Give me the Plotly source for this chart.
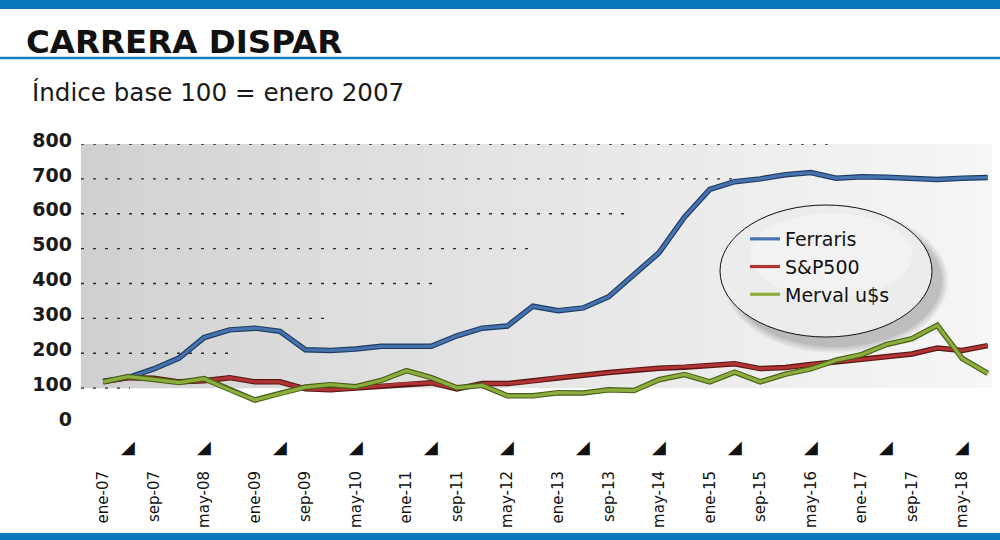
import plotly.graph_objects as go

# ---------------- data ----------------
dates = [
    "2007-01-01", "2007-05-01", "2007-09-01", "2008-01-01", "2008-05-01", "2008-09-01",
    "2009-01-01", "2009-05-01", "2009-09-01", "2010-01-01", "2010-05-01", "2010-09-01",
    "2011-01-01", "2011-05-01", "2011-09-01", "2012-01-01", "2012-05-01", "2012-09-01",
    "2013-01-01", "2013-05-01", "2013-09-01", "2014-01-01", "2014-05-01", "2014-09-01",
    "2015-01-01", "2015-05-01", "2015-09-01", "2016-01-01", "2016-05-01", "2016-09-01",
    "2017-01-01", "2017-05-01", "2017-09-01", "2018-01-01", "2018-05-01", "2018-09-01",
]
ferraris = [120, 130, 155, 186, 245, 267, 272, 263, 210, 208, 212, 220,
            220, 220, 250, 272, 278, 335, 322, 330, 362, 425, 488, 590,
            670, 692, 700, 712, 718, 702, 706, 705, 701, 698, 702, 704]
sp500 = [118, 130, 128, 118, 121, 130, 118, 118, 98, 95, 100, 106,
         113, 115, 98, 113, 113, 120, 130, 137, 145, 152, 157, 160,
         165, 170, 156, 159, 168, 176, 182, 190, 198, 215, 208, 222]
merval = [118, 133, 125, 116, 127, 95, 66, 85, 103, 110, 104, 122,
          150, 130, 101, 108, 78, 78, 87, 86, 95, 93, 124, 139,
          118, 146, 118, 140, 155, 180, 196, 225, 242, 280, 185, 142]

series_names = ["Ferraris", "S&P500", "Merval u$s"]

tick_dates = [
    "2007-01-01", "2007-09-01", "2008-05-01", "2009-01-01", "2009-09-01", "2010-05-01",
    "2011-01-01", "2011-09-01", "2012-05-01", "2013-01-01", "2013-09-01", "2014-05-01",
    "2015-01-01", "2015-09-01", "2016-05-01", "2017-01-01", "2017-09-01", "2018-05-01",
]
tick_labels = ["ene-07", "sep-07", "may-08", "ene-09", "sep-09", "may-10",
               "ene-11", "sep-11", "may-12", "ene-13", "sep-13", "may-14",
               "ene-15", "sep-15", "may-16", "ene-17", "sep-17", "may-18"]
marker_dates = ["%d-05-01" % y for y in range(2007, 2019)]
y_ticks = [0, 100, 200, 300, 400, 500, 600, 700, 800]

# ---------------- styles ----------------
W, H = 1000, 540
ML, MR, MT, MB = 81, 10, 144, 117
PW = W - ML - MR
PH = H - MT - MB

main_colors = ["#4673ad", "#b03434", "#8cae3e"]
edge_colors = ["#1c3a63", "#5a1515", "#4a5f17"]
grid_end_px = [130, 233, 333, 433, 533, 633, 733, 835]  # ends of dotted lines 100..800


def px_x(px):
    return (px - ML) / PW


def px_y(py):
    return (H - MB - py) / PH


fig = go.Figure()

for name, vals, mc, ec in zip(series_names, [ferraris, sp500, merval], main_colors, edge_colors):
    fig.add_trace(go.Scatter(x=dates, y=vals, mode="lines", line=dict(color=ec, width=5.5),
                             showlegend=False, hoverinfo="skip"))
    fig.add_trace(go.Scatter(x=dates, y=vals, mode="lines", name=name,
                             line=dict(color=mc, width=3.2)))

shapes = []
# top / bottom bars and title rule
shapes.append(dict(type="rect", xref="paper", yref="paper", x0=px_x(0), x1=px_x(W),
                   y0=px_y(0), y1=px_y(9), fillcolor="#0a79bb", line=dict(width=0), layer="below"))
shapes.append(dict(type="line", xref="paper", yref="paper", x0=px_x(0), x1=px_x(W),
                   y0=px_y(58), y1=px_y(58), line=dict(color="#1b7fc0", width=2.5)))
shapes.append(dict(type="rect", xref="paper", yref="paper", x0=px_x(0), x1=px_x(W),
                   y0=px_y(533), y1=px_y(541), fillcolor="#0a79bb", line=dict(width=0), layer="below"))

# gradient background (100..800)
n = 45
for i in range(n):
    t = i / (n - 1)
    c = int(208 + (246 - 208) * (t ** 0.8))
    shapes.append(dict(type="rect", xref="paper", yref="y",
                       x0=i / n, x1=(i + 1) / n + 0.002, y0=100, y1=800,
                       fillcolor="rgb(%d,%d,%d)" % (c, c, c), line=dict(width=0), layer="below"))

# dotted grid lines
for v, endpx in zip(y_ticks[1:], grid_end_px):
    shapes.append(dict(type="line", xref="paper", yref="y", x0=0, x1=px_x(endpx), y0=v, y1=v,
                       line=dict(color="#2a2a2a", width=1.3, dash="3px,9px"), layer="below"))

# legend ellipse with soft shadow
ex0, ex1, ey0, ey1 = 720, 932, 205, 337
for k, a in enumerate([0.05, 0.05, 0.06, 0.07]):
    g = 10 - 2 * k
    shapes.append(dict(type="circle", xref="paper", yref="paper",
                       x0=px_x(ex0 + 4 + (10 - g)), x1=px_x(ex1 + 6 + g),
                       y0=px_y(ey1 + 6 + g), y1=px_y(ey0 + 4 + (10 - g)),
                       fillcolor="rgba(0,0,0,%.2f)" % a, line=dict(width=0), layer="below"))
shapes.append(dict(type="circle", xref="paper", yref="paper",
                   x0=px_x(ex0), x1=px_x(ex1), y0=px_y(ey1), y1=px_y(ey0),
                   fillcolor="#ececec", line=dict(color="#111111", width=1), layer="below"))
shapes.append(dict(type="circle", xref="paper", yref="paper",
                   x0=px_x(ex0 + 30), x1=px_x(ex1 - 20), y0=px_y(ey1 - 40), y1=px_y(ey0 + 8),
                   fillcolor="rgba(255,255,255,0.35)", line=dict(width=0), layer="below"))

annotations = [
    dict(text="<b>CARRERA DISPAR</b>", xref="paper", yref="paper", x=px_x(24), y=px_y(42),
         xanchor="left", yanchor="middle", showarrow=False,
         font=dict(family="DejaVu Sans", size=32.5, color="#111111")),
    dict(text="Índice base 100 = enero 2007", xref="paper", yref="paper", x=px_x(30), y=px_y(93),
         xanchor="left", yanchor="middle", showarrow=False,
         font=dict(family="DejaVu Sans", size=24.6, color="#1a1a1a")),
]
# little triangles marking each year
for d in marker_dates:
    annotations.append(dict(text="◢", xref="x", yref="paper", x=d, y=px_y(446),
                            xanchor="center", yanchor="middle", showarrow=False,
                            font=dict(family="DejaVu Sans", size=18, color="#111111")))

fig.update_layout(
    width=W, height=H,
    margin=dict(l=ML, r=MR, t=MT, b=MB),
    paper_bgcolor="white", plot_bgcolor="white",
    shapes=shapes, annotations=annotations,
    showlegend=True,
    legend=dict(x=px_x(745), y=px_y(220), xanchor="left", yanchor="top",
                bgcolor="rgba(0,0,0,0)", borderwidth=0,
                font=dict(family="DejaVu Sans", size=19, color="#111111"),
                traceorder="normal", itemwidth=30),
    xaxis=dict(type="date", range=["2006-09-16", "2018-09-12"],
               tickmode="array", tickvals=tick_dates, ticktext=tick_labels,
               tickangle=-90, ticks="outside", ticklen=41, tickcolor="rgba(0,0,0,0)",
               tickfont=dict(family="DejaVu Sans", size=15, color="#111111"),
               showgrid=False, zeroline=False, showline=False),
    yaxis=dict(range=[0, 800], tickmode="array", tickvals=y_ticks,
               tickfont=dict(family="DejaVu Sans", size=19, color="#1a1a1a", weight="bold"),
               showgrid=False, zeroline=False, showline=False, ticks="",
               ticklabelstandoff=8, ticklabelshift=-4),
)

fig.write_html("out.html", config={"displayModeBar": False},
               post_script="document.body.style.margin='0px';")
